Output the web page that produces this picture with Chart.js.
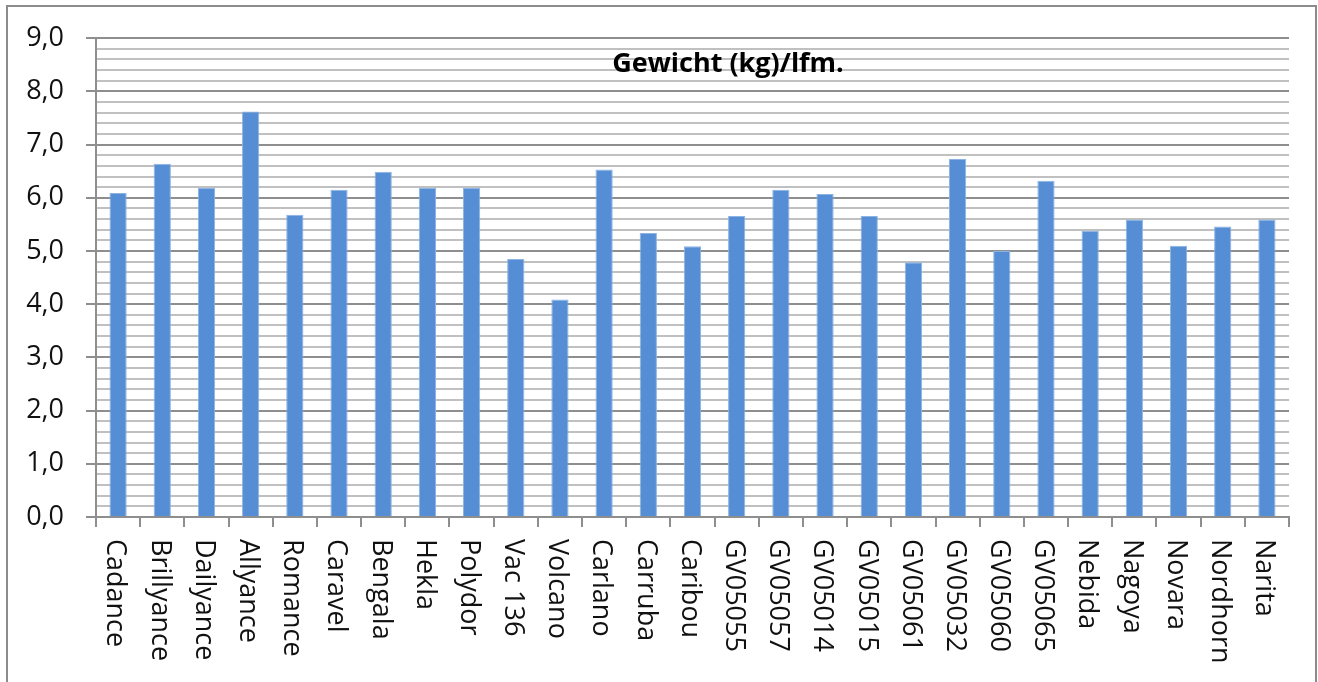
<!DOCTYPE html>
<html>
<head>
<meta charset="utf-8">
<script src="https://cdn.jsdelivr.net/npm/chart.js@4"></script>
<style>
    html, body { margin: 0; padding: 0; background: #fff; }
    body { width: 1318px; height: 682px; overflow: hidden; position: relative; }
    .frame { position: absolute; left: 6px; top: 5px; width: 1311px; height: 700px; border: 2px solid #8c8c8c; box-sizing: border-box; }
    .chart-box { position: absolute; left: 0; top: 0; width: 1318px; height: 682px; }
    canvas { display: block; }
</style>
</head>
<body>
<div class="frame"></div>
<div class="chart-box"><canvas id="weightChart" width="1318" height="682"></canvas></div>
<script>
const categories = ['Cadance', 'Brillyance', 'Dailyance', 'Allyance', 'Romance', 'Caravel', 'Bengala', 'Hekla', 'Polydor', 'Vac 136',
    'Volcano', 'Carlano', 'Carruba', 'Caribou', 'GV05055', 'GV05057', 'GV05014', 'GV05015', 'GV05061', 'GV05032',
    'GV05060', 'GV05065', 'Nebida', 'Nagoya', 'Novara', 'Nordhorn', 'Narita'];
const weights = [6.09, 6.64, 6.19, 7.62, 5.68, 6.15, 6.49, 6.19, 6.19, 4.85,
    4.09, 6.53, 5.34, 5.09, 5.66, 6.15, 6.07, 5.66, 4.79, 6.73,
    5.00, 6.32, 5.38, 5.59, 5.10, 5.46, 5.59];
const yTickLabels = ['0,0', '1,0', '2,0', '3,0', '4,0', '5,0', '6,0', '7,0', '8,0', '9,0'];
const chartTitle = 'Gewicht (kg)/lfm.';

const FONT = '"Open Sans", "Noto Sans", sans-serif';
const isMajor = v => Math.abs(v - Math.round(v)) < 1e-6;

// category labels read top-to-bottom (clockwise), so draw them ourselves
const verticalLabels = {
    id: 'verticalLabels',
    afterDraw(chart) {
        const c = chart.ctx;
        const x = chart.scales.x;
        c.save();
        c.font = '27px ' + FONT;
        c.fillStyle = '#111';
        c.textAlign = 'left';
        c.textBaseline = 'middle';
        categories.forEach((name, i) => {
            c.save();
            c.translate(x.getPixelForValue(i) - 3, x.top + 22);
            c.rotate(Math.PI / 2);
            c.fillText(name, 0, 0);
            c.restore();
        });
        c.restore();
    }
};

const innerTitle = {
    id: 'innerTitle',
    afterDraw(chart) {
        const c = chart.ctx;
        c.save();
        c.font = 'bold 27px ' + FONT;
        c.fillStyle = '#000';
        c.textAlign = 'center';
        c.textBaseline = 'middle';
        c.fillText(chartTitle, 728, 64);
        c.restore();
    }
};

new Chart(document.getElementById('weightChart'), {
    type: 'bar',
    data: {
        labels: categories,
        datasets: [{
            label: chartTitle,
            data: weights,
            backgroundColor: '#558ED5',
            borderColor: '#8DB3E2',
            borderWidth: 1,
            barPercentage: 0.39,
            categoryPercentage: 1
        }]
    },
    options: {
        responsive: false,
        animation: false,
        devicePixelRatio: 1,
        layout: { padding: { top: 37, right: 29, left: 0, bottom: 0 } },
        plugins: { legend: { display: false }, title: { display: false }, tooltip: { enabled: false } },
        scales: {
            x: {
                afterFit: s => { s.height = 165; },
                ticks: { display: false },
                grid: { drawOnChartArea: false, offset: true, tickLength: 10, lineWidth: 2, color: '#8E8E8E', tickColor: '#8E8E8E', tickWidth: 2 },
                border: { color: '#8E8E8E', width: 2 }
            },
            y: {
                min: 0,
                max: 9,
                afterFit: s => { s.width = 96; },
                ticks: {
                    stepSize: 0.2,
                    autoSkip: false,
                    padding: 22,
                    color: '#111',
                    font: { family: FONT, size: 27 },
                    callback: v => isMajor(v) ? yTickLabels[Math.round(v)] : ''
                },
                grid: {
                    tickLength: 10,
                    color: ctx => isMajor(ctx.tick.value) ? '#8E8E8E' : '#C0C0C0',
                    tickColor: ctx => isMajor(ctx.tick.value) ? '#8E8E8E' : 'rgba(0,0,0,0)',
                    lineWidth: 2,
                    tickWidth: 2
                },
                border: { color: '#8E8E8E', width: 2 }
            }
        }
    },
    plugins: [verticalLabels, innerTitle]
});
</script>
</body>
</html>
